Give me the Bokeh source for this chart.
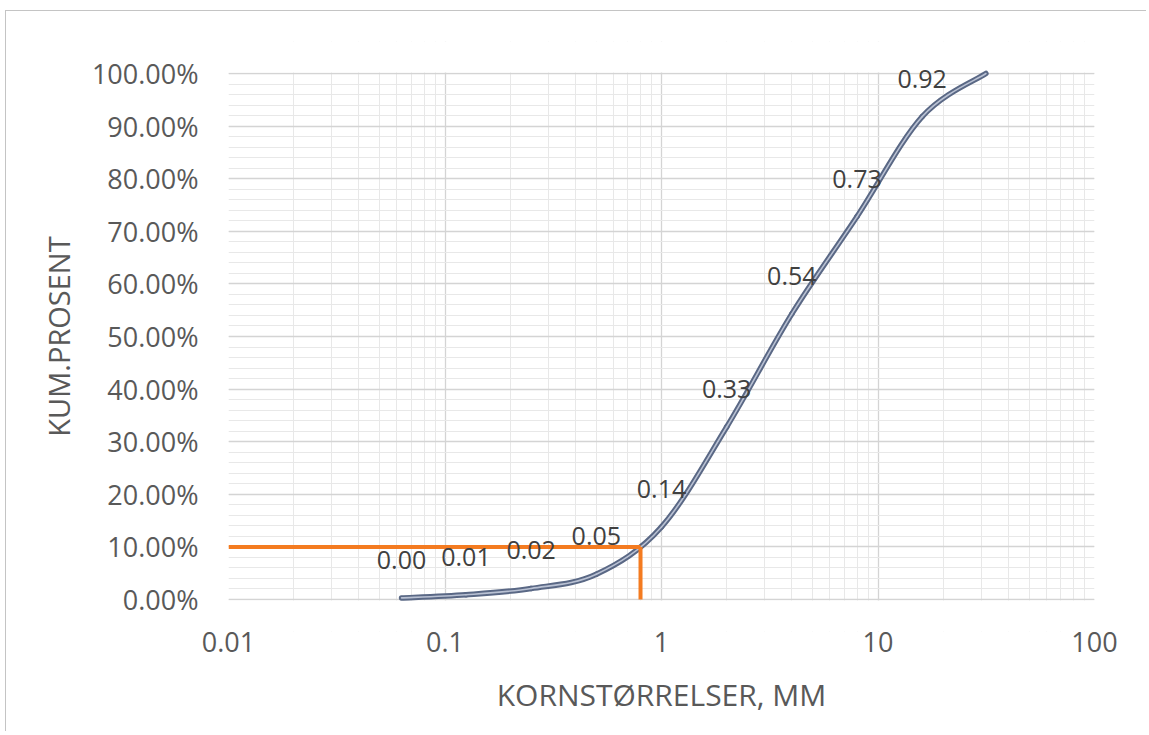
import numpy as np
from bokeh.plotting import figure
from bokeh.models import FixedTicker, NumeralTickFormatter, ColumnDataSource, LabelSet, BoxAnnotation
from bokeh.core.properties import value
from bokeh.embed import file_html
from bokeh.resources import INLINE

# ---- data ----
sieve_mm = [0.063, 0.125, 0.25, 0.5, 1, 2, 4, 8, 16, 31.5]
cum_frac = [0.003, 0.009, 0.021, 0.048, 0.138, 0.328, 0.543, 0.728, 0.918, 1.0]
n_labelled = 9            # the last point (31.5 mm) carries no data label
d10_mm = 0.8
d10_frac = 0.10
x_ticks = [0.01, 0.1, 1, 10, 100]
y_ticks = [i / 10 for i in range(11)]
y_minor = [i / 50 for i in range(51)]
x_minor = [m * 10.0 ** k for k in range(-2, 2) for m in range(2, 10)]

FONT = "Open Sans"
GREY = "#595959"

# plot area 0..100 % is 526 px tall; the frame gets 32 px of blank room above and
# below so that the top data label is not clipped
PLOT_H = 526
PAD_PX = 32
pad = PAD_PX / PLOT_H

p = figure(
    x_axis_type="log", x_range=(0.01, 100), y_range=(-pad, 1 + pad),
    frame_width=866, frame_height=PLOT_H + 2 * PAD_PX,
    min_border_left=222, min_border_right=52, min_border_top=30, min_border_bottom=100,
    output_backend="svg", toolbar_location=None,
)
p.styles = {"border-top": "1px solid #c4c4c4", "border-left": "1px solid #c4c4c4",
            "margin-left": "5px", "margin-top": "10px"}
p.outline_line_color = None
p.background_fill_color = "white"
p.border_fill_color = "white"

# axes
p.xaxis.ticker = FixedTicker(ticks=x_ticks, minor_ticks=x_minor)
p.yaxis.ticker = FixedTicker(ticks=y_ticks, minor_ticks=y_minor)
p.xaxis.major_label_overrides = {t: ("%g" % t) for t in x_ticks}
p.yaxis.formatter = NumeralTickFormatter(format="0.00%")
for ax in (p.xaxis[0], p.yaxis[0]):
    ax.axis_line_color = None
    ax.major_tick_line_color = None
    ax.minor_tick_line_color = None
    ax.major_tick_out = 0
    ax.minor_tick_out = 0
    ax.major_label_text_font = FONT
    ax.major_label_text_color = GREY
    ax.axis_label_text_font = FONT
    ax.axis_label_text_color = GREY
    ax.axis_label_text_font_style = "normal"
p.xaxis.major_label_text_font_size = "27px"
p.yaxis.major_label_text_font_size = "27px"
p.xaxis.axis_label_text_font_size = "30px"
p.yaxis.axis_label_text_font_size = "29px"
p.xaxis.axis_label = "KORNSTØRRELSER, MM"
p.yaxis.axis_label = "KUM.PROSENT"
p.xaxis.major_label_standoff = 0
p.yaxis.major_label_standoff = 30
p.xaxis.axis_label_standoff = 19
p.yaxis.axis_label_standoff = 11

# grid
for g in (p.xgrid[0], p.ygrid[0]):
    g.grid_line_color = "#d4d4d4"
    g.grid_line_width = 1.3
    g.minor_grid_line_color = "#e8e8e8"
    g.minor_grid_line_width = 1

# white masks outside 0..100 % (hide the vertical grid lines there)
p.add_layout(BoxAnnotation(top=-0.002, fill_color="white", fill_alpha=1,
                           line_color=None, level="underlay"))
p.add_layout(BoxAnnotation(bottom=1.002, fill_color="white", fill_alpha=1,
                           line_color=None, level="underlay"))

# smoothed curve (Excel-style smoothing: Catmull-Rom -> cubic Bezier in log-x space)
lx = np.log10(np.array(sieve_mm))
yy = np.array(cum_frac)
n = len(lx)
x0, y0, x1, y1, cx0, cy0, cx1, cy1 = ([] for _ in range(8))
for i in range(n - 1):
    im, ip2 = max(i - 1, 0), min(i + 2, n - 1)
    x0.append(10 ** lx[i]); y0.append(yy[i])
    x1.append(10 ** lx[i + 1]); y1.append(yy[i + 1])
    cx0.append(10 ** (lx[i] + (lx[i + 1] - lx[im]) / 6)); cy0.append(yy[i] + (yy[i + 1] - yy[im]) / 6)
    cx1.append(10 ** (lx[i + 1] - (lx[ip2] - lx[i]) / 6)); cy1.append(yy[i + 1] - (yy[ip2] - yy[i]) / 6)

p.bezier(x0=x0, y0=y0, x1=x1, y1=y1, cx0=cx0, cy0=cy0, cx1=cx1, cy1=cy1,
         line_color="#5a6885", line_width=5.5, line_cap="round")
p.bezier(x0=x0, y0=y0, x1=x1, y1=y1, cx0=cx0, cy0=cy0, cx1=cx1, cy1=cy1,
         line_color="#b9c1d3", line_width=1.6, line_cap="round")

# D10 guide lines
p.line([0.01, d10_mm], [d10_frac, d10_frac], line_color="#f47b20", line_width=4)
p.line([d10_mm, d10_mm], [d10_frac, 0], line_color="#f47b20", line_width=4)

# data labels (above points)
lab_src = ColumnDataSource(dict(
    x=sieve_mm[:n_labelled], y=cum_frac[:n_labelled],
    t=["%.2f" % v for v in cum_frac[:n_labelled]]))
labels = LabelSet(x="x", y="y", text="t", source=lab_src,
                  text_font=value(FONT), text_font_size="25px", text_color="#404040",
                  text_align="center", text_baseline="middle", y_offset=38)
p.add_layout(labels)

open("out.html", "w").write(file_html(p, INLINE))
